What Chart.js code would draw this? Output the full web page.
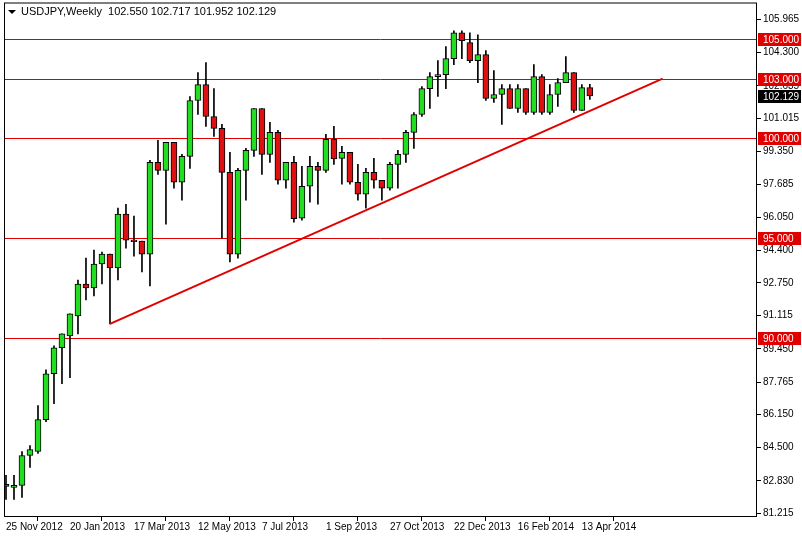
<!DOCTYPE html>
<html>
<head>
<meta charset="utf-8">
<script src="https://cdn.jsdelivr.net/npm/chart.js@4.4.0/dist/chart.umd.min.js"></script>
<style>
  html, body { margin: 0; padding: 0; background: #fff; }
  #wrap { width: 802px; height: 537px; }
</style>
</head>
<body>
<div id="wrap"><canvas id="c" width="802" height="537"></canvas></div>
<script>
// weekly candles, index 0 = week of 25 Nov 2012
const opens  = [82.65,82.5,82.6,84.1,84.3,85.9,88.2,89.5,90.1,91.1,92.7,92.5,93.7,94.2,93.5,96.2,94.9,94.85,94.2,98.8,
                98.4,99.8,97.8,99.1,101.9,102.7,101.1,100.5,98.3,94.2,98.4,99.4,101.5,99.2,100.3,97.9,98.8,96.0,97.6,98.6,
                98.4,99.95,99.0,99.3,97.8,97.2,98.3,97.9,97.5,98.7,99.2,100.3,101.2,102.5,103.1,103.2,104.0,105.3,104.8,103.9,
                104.2,102.0,102.2,102.5,101.5,102.5,101.3,103.1,101.3,102.2,102.8,103.3,101.4,102.55];
const closes = [82.55,82.6,84.1,84.4,85.9,88.2,89.5,90.2,91.2,92.7,92.5,93.7,94.2,93.5,96.2,94.9,94.85,94.2,98.8,98.4,
                99.8,97.8,99.1,101.9,102.7,101.1,100.5,98.3,94.2,98.4,99.4,101.5,99.2,100.3,97.9,98.8,95.97,97.6,98.6,98.4,
                99.95,98.97,99.3,97.8,97.2,98.3,97.9,97.5,98.7,99.2,100.3,101.2,102.5,103.1,103.2,104.0,105.3,104.9,103.9,104.2,
                102.0,102.2,102.5,101.5,102.5,101.3,103.1,101.3,102.2,102.8,103.3,101.4,102.55,102.129];
const highs  = [83.1,83.1,84.3,84.6,86.6,88.4,89.6,90.2,91.2,92.9,94.0,94.4,94.3,94.2,96.5,96.7,96.1,94.85,98.9,99.9,
                99.8,99.8,99.2,102.1,103.3,103.8,102.5,100.7,99.3,98.5,99.5,101.5,101.5,100.8,100.4,98.8,99.1,98.6,99.1,98.8,
                100.2,100.6,99.6,99.3,98.7,98.5,99.0,97.9,98.8,99.4,100.4,101.3,102.6,103.3,103.9,104.6,105.4,105.4,105.3,105.2,
                104.4,103.4,102.7,102.7,102.7,102.5,103.7,103.2,102.7,103.0,104.1,103.3,102.7,102.717];
const lows   = [81.9,81.9,82.0,83.5,84.2,85.8,86.7,87.7,88.0,90.2,91.9,92.1,92.7,90.7,92.9,94.5,94.1,93.3,92.6,98.2,
                95.7,97.5,96.9,98.5,101.2,100.6,100.1,95.0,93.8,94.0,96.9,99.1,98.2,98.8,97.7,97.5,95.8,95.9,96.8,96.7,
                98.3,98.7,97.7,97.7,96.9,96.5,97.5,96.9,97.4,97.5,98.8,99.5,101.1,101.5,102.1,102.5,103.7,104.0,103.8,102.8,
                101.9,101.8,100.7,101.5,101.3,101.2,101.2,101.2,101.2,101.6,102.8,101.3,101.4,101.952];
const dateLabels = ['25 Nov 2012','20 Jan 2013','17 Mar 2013','12 May 2013','7 Jul 2013','1 Sep 2013',
                    '27 Oct 2013','22 Dec 2013','16 Feb 2014','13 Apr 2014'];
const priceTicks = [105.965,104.300,102.635,101.015,99.350,97.685,96.050,94.400,92.750,91.115,89.450,87.765,
                    86.150,84.500,82.830,81.215];
const levels = [105.0, 103.0, 100.0, 95.0, 90.0];
const trendX = [13, 82.1];
const trendY = [90.7, 103.0];

const bodyColors = opens.map((o, i) => closes[i] >= o ? '#22dd22' : '#dd1111');
const wickData = lows.map((l, i) => ({ x: i, y: [l, highs[i]] }));
const bodyData = opens.map((o, i) => {
    let a = o, b = closes[i];
    if (Math.abs(a - b) < 0.08) b = a + (b >= a ? 0.08 : -0.08);
    return { x: i, y: [a, b] };
});

const RED = '#e00000';
const fontName = 'Liberation Sans';

const overlay = {
    id: 'overlay',
    beforeDatasetsDraw(chart) {
        const { ctx, chartArea: a, scales: { y } } = chart;
        ctx.save();
        ctx.strokeStyle = RED;
        ctx.lineWidth = 1;
        levels.forEach(v => {
            const py = Math.round(y.getPixelForValue(v)) + 0.5;
            ctx.beginPath(); ctx.moveTo(a.left, py); ctx.lineTo(a.right, py); ctx.stroke();
        });
        ctx.restore();
    },
    afterDraw(chart) {
        const { ctx, chartArea: a, scales: { y } } = chart;
        ctx.save();
        ctx.strokeStyle = '#000';
        ctx.lineWidth = 1;
        ctx.strokeRect(a.left + 0.5, a.top + 0.5, a.right - a.left - 1, a.bottom - a.top - 1);
        ctx.font = '10px ' + fontName;
        ctx.textBaseline = 'middle';
        levels.forEach(v => {
            const py = Math.round(y.getPixelForValue(v));
            ctx.fillStyle = RED;
            ctx.fillRect(a.right + 1, py - 6, 43, 13);
            ctx.fillStyle = '#fff';
            ctx.fillText(v.toFixed(3), a.right + 6, py + 1);
        });
        const last = closes[closes.length - 1];
        const py = Math.round(y.getPixelForValue(last));
        ctx.fillStyle = '#000';
        ctx.fillRect(a.right + 1, py - 6, 43, 13);
        ctx.fillStyle = '#fff';
        ctx.fillText(last.toFixed(3), a.right + 6, py + 1);
        // header
        ctx.fillStyle = '#000';
        ctx.font = '11px ' + fontName;
        ctx.beginPath(); ctx.moveTo(8, 10); ctx.lineTo(16, 10); ctx.lineTo(12, 14); ctx.closePath(); ctx.fill();
        ctx.fillText('USDJPY,Weekly  102.550 102.717 101.952 102.129', 21, 12);
        ctx.restore();
    }
};

new Chart(document.getElementById('c'), {
    data: {
        datasets: [
            { type: 'bar', data: wickData, backgroundColor: '#000', barThickness: 1, grouped: false, order: 2 },
            { type: 'bar', data: bodyData, backgroundColor: bodyColors, borderColor: '#000', borderWidth: 1,
              borderSkipped: false, barThickness: 6, grouped: false, order: 1 },
            { type: 'line', data: trendX.map((x, i) => ({ x: x, y: trendY[i] })), borderColor: RED,
              borderWidth: 2, pointRadius: 0, order: 0 }
        ]
    },
    options: {
        animation: false,
        responsive: false,
        events: [],
        layout: { padding: { top: 1, left: 4, right: 0, bottom: 0 } },
        plugins: { legend: { display: false }, tooltip: { enabled: false } },
        scales: {
            x: {
                type: 'linear', min: -0.25, max: 93.9, offset: false,
                grid: { drawOnChartArea: false, tickLength: 4, color: '#000' },
                border: { display: false },
                afterBuildTicks: s => { s.ticks = dateLabels.map((_, i) => ({ value: i * 8 })); },
                afterFit: s => { s.height = 20; },
                ticks: { autoSkip: false, maxRotation: 0, align: 'start', padding: 0, color: '#000',
                         font: { family: fontName, size: 10 },
                         callback: (v) => dateLabels[Math.round(v / 8)] }
            },
            y: {
                position: 'right', min: 81.015, max: 106.815,
                grid: { drawOnChartArea: false, tickLength: 4, color: '#000' },
                border: { display: false },
                afterBuildTicks: s => { s.ticks = priceTicks.map(v => ({ value: v })); },
                afterFit: s => { s.width = 45; },
                ticks: { autoSkip: false, padding: 2, color: '#000',
                         font: { family: fontName, size: 10, lineHeight: 0.1 },
                         callback: v => v.toFixed(3) }
            }
        }
    },
    plugins: [overlay]
});
</script>
</body>
</html>
